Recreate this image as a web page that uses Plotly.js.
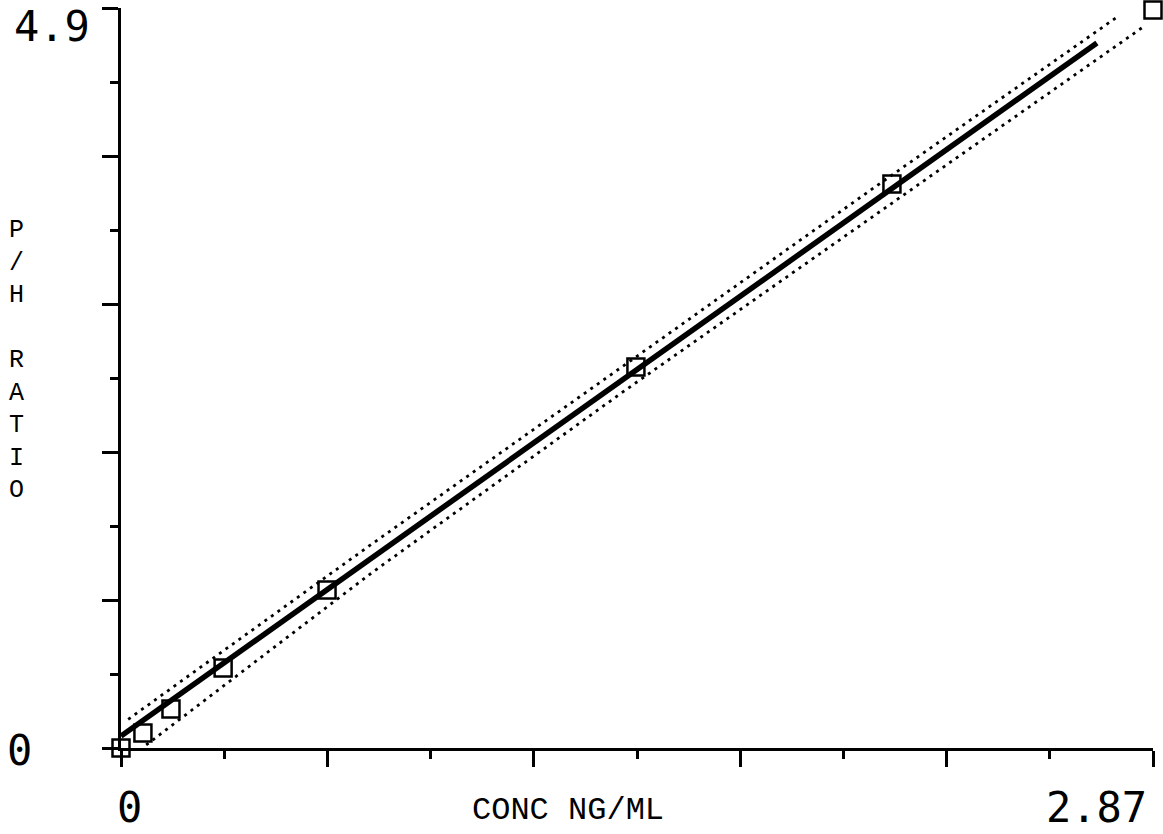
<!DOCTYPE html>
<html>
<head>
<meta charset="utf-8">
<script src="https://cdn.plot.ly/plotly-3.0.1.min.js"></script>
<style>html,body{margin:0;padding:0;background:#fff;}#chart{width:1163px;height:834px;}</style>
</head>
<body>
<div id="chart"></div>
<script>
// Calibration points (CONC NG/ML vs P/H RATIO)
const pointsX = [0, 0.061, 0.139, 0.284, 0.573, 1.432, 2.144, 2.87];
const pointsY = [0, 0.099, 0.258, 0.530, 1.046, 2.523, 3.735, 4.887];

// Regression line
const fitX = [0, 2.714];
const fitY = [0.079, 4.669];

// Confidence bands
const upperX = [0.02, 0.7, 1.4, 2.1, 2.77];
const upperY = [0.19, 1.355, 2.535, 3.72, 4.84];
const lowerX = [0.07, 0.7, 1.4, 2.1, 2.84];
const lowerY = [0.02, 1.165, 2.365, 3.535, 4.77];

// Axis ticks
const xMajor = [0, 0.574, 1.148, 1.722, 2.296, 2.87];
const xMinor = [0.287, 0.861, 1.435, 2.009, 2.583];
const yMajor = [0, 0.98, 1.96, 2.94, 3.92, 4.9];
const yMinor = [0.49, 1.47, 2.45, 3.43, 4.41];

const xTitle = "CONC NG/ML";
const yTitleLetters = ["P", "/", "H", "", "R", "A", "T", "I", "O"];
const xEndLabels = ["0", "2.87"];
const yEndLabels = ["0", "4.9"];

const traces = [
  {x: upperX, y: upperY, mode: "lines", line: {color: "black", width: 2.8, dash: "3px,5px"}, hoverinfo: "skip"},
  {x: lowerX, y: lowerY, mode: "lines", line: {color: "black", width: 2.8, dash: "3px,5px"}, hoverinfo: "skip"},
  {x: fitX, y: fitY, mode: "lines", line: {color: "black", width: 5.5}},
  {x: pointsX, y: pointsY, mode: "markers", cliponaxis: false,
   marker: {symbol: "square-open", size: 17, color: "black", line: {width: 2.5, color: "black"}}}
];

const digitFont = {family: "DejaVu Sans Mono", size: 42, color: "black"};
const textFont = {family: "Liberation Mono", size: 32, color: "black"};

const axisCommon = {
  showgrid: false, zeroline: false, showline: true, linecolor: "black", linewidth: 3,
  ticks: "outside", tickcolor: "black", tickwidth: 3, ticklen: 16,
  showticklabels: false, tickmode: "array", fixedrange: true
};

const layout = {
  width: 1163, height: 834,
  margin: {l: 121, r: 10, t: 8, b: 86},
  paper_bgcolor: "white", plot_bgcolor: "white",
  showlegend: false,
  xaxis: Object.assign({}, axisCommon, {
    range: [0, 2.87], tickvals: xMajor,
    minor: {tickmode: "array", tickvals: xMinor, ticks: "outside", ticklen: 8, tickwidth: 3, tickcolor: "black", showgrid: false}
  }),
  yaxis: Object.assign({}, axisCommon, {
    range: [0, 4.9], tickvals: yMajor,
    minor: {tickmode: "array", tickvals: yMinor, ticks: "outside", ticklen: 8, tickwidth: 3, tickcolor: "black", showgrid: false}
  }),
  annotations: [
    {text: yEndLabels[1], xref: "paper", yref: "paper", x: -0.0669, y: 0.975, xanchor: "center", yanchor: "middle", showarrow: false, font: digitFont},
    {text: yEndLabels[0], xref: "paper", yref: "paper", x: -0.0979, y: -0.003, xanchor: "center", yanchor: "middle", showarrow: false, font: digitFont},
    {text: xEndLabels[0], xref: "paper", yref: "paper", x: 0.0087, y: -0.081, xanchor: "center", yanchor: "middle", showarrow: false, font: digitFont},
    {text: xEndLabels[1], xref: "paper", yref: "paper", x: 0.9457, y: -0.081, xanchor: "center", yanchor: "middle", showarrow: false, font: digitFont},
    {text: xTitle, xref: "paper", yref: "paper", x: 0.433, y: -0.084, xanchor: "center", yanchor: "middle", showarrow: false, font: textFont},
    {text: yTitleLetters.join("<br>"), xref: "paper", yref: "paper", x: -0.1008, y: 0.524, xanchor: "center", yanchor: "middle", align: "center", showarrow: false,
     font: {family: "Liberation Mono", size: 25, color: "black"}}
  ]
};

Plotly.newPlot("chart", traces, layout, {displayModeBar: false, staticPlot: true});
</script>
</body>
</html>
